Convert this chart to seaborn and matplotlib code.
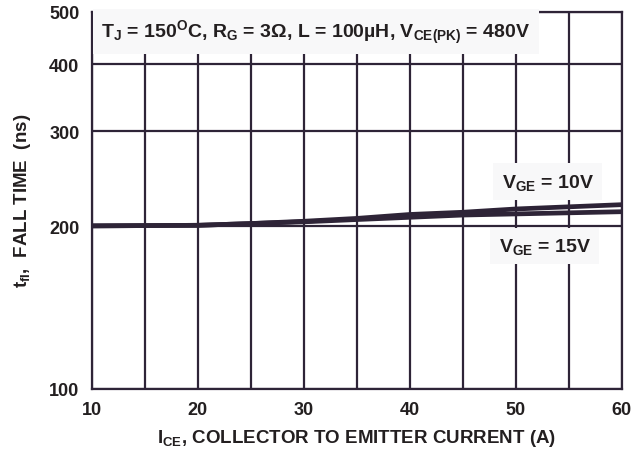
import pandas as pd
import matplotlib
matplotlib.use("Agg")
import matplotlib.pyplot as plt
import matplotlib.ticker as mticker
import seaborn as sns

# Dữ liệu
ice = [10, 20, 25, 30, 35, 40, 45, 50, 60]
vge10 = [200.5, 201, 202.5, 204.5, 207, 210.5, 212.5, 215.5, 219.5]
vge15 = [200.5, 201, 202.5, 204, 206, 208, 210, 211, 213]
series_names = ["VGE = 10V", "VGE = 15V"]
y_ticks = [100, 200, 300, 400, 500]
x_ticks = [10, 20, 30, 40, 50, 60]
x_minor = [15, 25, 35, 45, 55]

df = pd.concat([
    pd.DataFrame({"ICE": ice, "tfi": vge10, "VGE": series_names[0]}),
    pd.DataFrame({"ICE": ice, "tfi": vge15, "VGE": series_names[1]}),
], ignore_index=True)

sns.set_style("white")
plt.rcParams["font.family"] = ["Liberation Sans", "DejaVu Sans"]
plt.rcParams["font.weight"] = "bold"
plt.rcParams["mathtext.default"] = "regular"

dark = "#2e2437"
txt = "#231f20"

fig = plt.figure(figsize=(6.43, 4.56), dpi=100)
ax = fig.add_axes([0.143, 0.145, 0.824, 0.827])

sns.lineplot(data=df, x="ICE", y="tfi", hue="VGE",
             palette=[dark, dark], linewidth=3.4, legend=False, ax=ax)

ax.set_yscale("log")
ax.set_xlim(10, 60)
ax.set_ylim(100, 500)
ax.yaxis.set_major_locator(mticker.FixedLocator(y_ticks))
ax.yaxis.set_major_formatter(mticker.FixedFormatter([str(v) for v in y_ticks]))
ax.yaxis.set_minor_locator(mticker.NullLocator())
ax.xaxis.set_major_locator(mticker.FixedLocator(x_ticks))
ax.xaxis.set_minor_locator(mticker.FixedLocator(x_minor))

ax.grid(True, which="both", color=dark, linewidth=1.6)
ax.set_axisbelow(True)
for s in ax.spines.values():
    s.set_color(dark)
    s.set_linewidth(1.6)
ax.tick_params(which="both", length=0, labelsize=13, colors=txt)
ax.tick_params(axis="y", pad=9)
ax.tick_params(axis="x", pad=9)

ax.set_xlabel("I$_{CE}$, COLLECTOR TO EMITTER CURRENT (A)",
              fontsize=13.5, fontweight="bold", color=txt, labelpad=6)
ax.set_ylabel("t$_{fI}$,  FALL TIME  (ns)",
              fontsize=13.5, fontweight="bold", color=txt, labelpad=12)

box = dict(facecolor="#f8f8f9", edgecolor="none", pad=6)
ax.text(0.017, 0.947,
        "T$_J$ = 150$^{O}$C, R$_G$ = 3Ω, L = 100µH, V$_{CE(PK)}$ = 480V",
        transform=ax.transAxes, ha="left", va="center", fontsize=14,
        fontweight="bold", color=txt, bbox=box, zorder=5)
ax.text(0.86, 0.549, "V$_{GE}$ = 10V", transform=ax.transAxes,
        ha="center", va="center", fontsize=14, fontweight="bold",
        color=txt, bbox=box, zorder=5)
ax.text(0.855, 0.379, "V$_{GE}$ = 15V", transform=ax.transAxes,
        ha="center", va="center", fontsize=14, fontweight="bold",
        color=txt, bbox=box, zorder=5)

fig.savefig("out.png", dpi=100)
